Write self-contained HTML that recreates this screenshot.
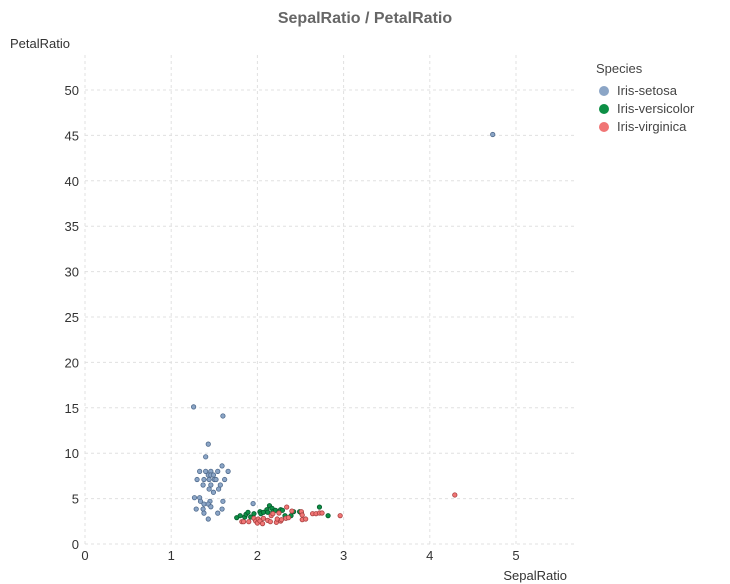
<!DOCTYPE html>
<html><head><meta charset="utf-8">
<style>
html,body{margin:0;padding:0;background:#fff;}
svg{display:block;font-family:"Liberation Sans",Arial,sans-serif;}
</style></head>
<body>
<svg id="chart" width="730" height="584">
<text x="365" y="23" text-anchor="middle" font-size="16" font-weight="bold" fill="#666">SepalRatio / PetalRatio</text>
<text x="10" y="48" font-size="13" fill="#333">PetalRatio</text>
<text x="567" y="580" text-anchor="end" font-size="13" fill="#333">SepalRatio</text>
<g id="grid"></g>
<g id="ticks"></g>
<g id="points"></g>
<g>
<text x="596" y="73" font-size="13" fill="#444">Species</text>
<g><circle cx="604" cy="91" r="5" fill="#8ba5c6"/><text x="617" y="95" font-size="13" fill="#444">Iris-setosa</text></g>
<g><circle cx="604" cy="109" r="5" fill="#0d8f45"/><text x="617" y="113" font-size="13" fill="#444">Iris-versicolor</text></g>
<g><circle cx="604" cy="127" r="5" fill="#f07575"/><text x="617" y="131" font-size="13" fill="#444">Iris-virginica</text></g>
</g>
</svg>
<script>
const xTicks=[0,1,2,3,4,5];
const yTicks=[0,5,10,15,20,25,30,35,40,45,50];
const setosaX=[1.26,1.60,1.43,1.40,1.59,1.33,1.40,1.46,1.54,1.66,1.43,1.46,1.49,1.30,1.38,1.44,1.50,1.52,1.62,1.37,1.46,1.57,1.44,1.55,1.49,1.27,1.33,1.34,1.45,1.60,1.38,1.43,1.46,1.29,1.37,1.59,1.38,1.54,1.43,1.95,4.73];
const setosaY=[15.1,14.1,11.0,9.6,8.6,8.0,8.0,8.0,8.0,8.0,7.6,7.6,7.6,7.1,7.1,7.1,7.1,7.1,7.1,6.5,6.5,6.5,6.05,6.05,5.7,5.1,5.1,4.7,4.7,4.7,4.4,4.4,4.1,3.85,3.85,3.85,3.4,3.4,2.75,4.45,45.1];
const versiX=[1.76,1.80,1.853,1.868,1.891,1.922,1.96,2.03,2.04,2.07,2.11,2.14,2.17,2.12,2.18,2.21,2.25,2.27,2.29,2.32,2.39,2.42,2.49,2.51,2.72,2.82];
const versiY=[2.90,3.12,2.97,3.27,3.49,2.97,3.34,3.56,3.34,3.49,3.78,4.22,3.93,3.49,3.56,3.71,3.56,3.78,3.71,3.12,3.12,3.56,3.56,3.41,4.07,3.12];
const virgX=[1.82,1.84,1.90,1.96,1.98,2.00,2.01,2.03,2.06,2.07,2.12,2.15,2.16,2.18,2.22,2.23,2.25,2.27,2.28,2.33,2.34,2.36,2.40,2.51,2.52,2.52,2.56,2.64,2.68,2.72,2.75,2.96,4.29];
const virgY=[2.46,2.46,2.46,2.83,2.53,2.31,2.75,2.53,2.24,2.83,2.60,2.46,3.12,3.34,2.39,2.75,3.41,2.53,2.68,2.83,4.07,2.90,3.63,3.56,3.19,2.68,2.75,3.34,3.34,3.41,3.41,3.12,5.4];
const X0=85,XS=86.2,Y0=544,YS=9.08,XR=575,YT=55;
const sx=v=>X0+v*XS, sy=v=>Y0-v*YS;
const NS="http://www.w3.org/2000/svg";
const grid=document.getElementById('grid'),ticks=document.getElementById('ticks'),pts=document.getElementById('points');
function mk(t,a,p){const e=document.createElementNS(NS,t);for(const k in a)e.setAttribute(k,a[k]);p.appendChild(e);return e;}
xTicks.forEach(v=>{
  const l=mk('line',{x1:sx(v),x2:sx(v),y1:YT,y2:Y0,stroke:'#e0e0e0','stroke-dasharray':'3,3'},grid);
  
  
  const t=mk('text',{x:sx(v),y:Y0+16,'text-anchor':'middle','font-size':13,fill:'#333'},ticks);
  t.textContent=v;
  
  
});
yTicks.forEach(v=>{
  const l=mk('line',{x1:X0,x2:XR,y1:sy(v),y2:sy(v),stroke:'#e0e0e0','stroke-dasharray':'3,3'},grid);
  
  
  const t=mk('text',{x:X0-6,y:sy(v)+5,'text-anchor':'end','font-size':13,fill:'#333'},ticks);
  t.textContent=v;
  
  
});
function series(xs,ys,fill,stroke,name){
  xs.forEach((x,i)=>{
    const c=mk('circle',{cx:sx(x),cy:sy(ys[i]),r:2.2,fill:fill,stroke:stroke,'stroke-width':0.8},pts);
    
    
  });
}
series(setosaX,setosaY,'#8ba5c6','#4f6a8c','point-setosa');
series(versiX,versiY,'#0d8f45','#05572a','point-versicolor');
series(virgX,virgY,'#f07575','#a84040','point-virginica');
</script>
</body></html>
